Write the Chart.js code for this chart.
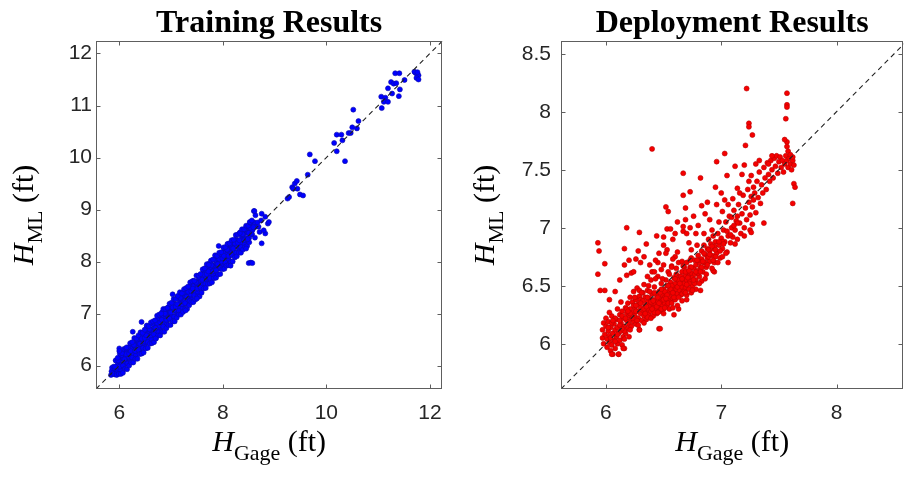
<!DOCTYPE html>
<html><head><meta charset="utf-8">
<script src="https://cdn.jsdelivr.net/npm/chart.js@4/dist/chart.umd.min.js"></script>
<style>
html,body{margin:0;padding:0;background:#fff;overflow:hidden;width:908px;height:478px}
#c1{position:absolute;left:0;top:0}
#c2{position:absolute;left:454px;top:0}
</style></head>
<body>
<canvas id="c1" width="454" height="478"></canvas>
<canvas id="c2" width="454" height="478"></canvas>
<script>
// ---- titles and labels ----
const trainTitle = 'Training Results';
const deployTitle = 'Deployment Results';
const xLabelParts = ['H', 'Gage', ' (ft)'];
const yLabelParts = ['H', 'ML', ' (ft)'];

// ---- tick labels and axis ranges ----
const trainTicksX = [6, 8, 10, 12];
const trainTicksY = [6, 7, 8, 9, 10, 11, 12];
const deployTicksX = [6, 7, 8];
const deployTicksY = [6, 6.5, 7, 7.5, 8, 8.5];
const trainRange = [5.55, 12.24];
const deployRangeX = [5.61, 8.58];
const deployRangeY = [5.61, 8.61];

// ---- training points [H_Gage, H_ML] ----
const trainBand = [
[5.84,5.82],[5.85,5.89],[5.86,5.96],[5.88,5.86],[5.89,5.98],[5.91,5.83],[5.92,5.94],[5.94,6.10],
[5.95,5.90],[5.97,6.03],[5.98,5.99],[6.00,6.11],[6.01,5.93],[6.03,6.17],[6.04,6.03],[6.06,6.13],
[6.07,5.98],[6.09,6.13],[6.10,6.23],[6.12,6.10],[6.13,6.22],[6.15,6.04],[6.16,6.18],[6.18,6.34],
[6.19,6.14],[6.21,6.27],[6.22,6.23],[6.24,6.35],[6.25,6.17],[6.27,6.41],[6.28,6.27],[6.30,6.37],
[6.31,6.22],[6.33,6.37],[6.34,6.47],[6.36,6.34],[6.37,6.46],[6.39,6.28],[6.40,6.42],[6.42,6.58],
[6.43,6.38],[6.45,6.51],[6.46,6.47],[6.48,6.59],[6.49,6.41],[6.51,6.65],[6.52,6.51],[6.54,6.61],
[6.55,6.46],[6.57,6.61],[6.58,6.71],[6.60,6.58],[6.61,6.70],[6.63,6.52],[6.64,6.66],[6.66,6.82],
[6.67,6.62],[6.69,6.75],[6.70,6.71],[6.72,6.83],[6.73,6.65],[6.75,6.89],[6.76,6.75],[6.78,6.85],
[6.79,6.70],[6.81,6.85],[6.82,6.95],[6.84,6.82],[6.85,6.94],[6.87,6.76],[6.88,6.90],[6.90,7.06],
[6.91,6.86],[6.93,6.99],[6.94,6.95],[6.96,7.07],[6.97,6.89],[6.99,7.13],[7.00,6.99],[7.02,7.09],
[7.03,6.94],[7.05,7.09],[7.06,7.19],[7.08,7.06],[7.09,7.18],[7.11,7.00],[7.12,7.14],[7.14,7.30],
[7.15,7.10],[7.17,7.23],[7.18,7.19],[7.20,7.31],[7.21,7.13],[7.23,7.37],[7.24,7.23],[7.26,7.33],
[7.27,7.18],[7.29,7.33],[7.30,7.43],[7.32,7.30],[7.33,7.42],[7.35,7.24],[7.36,7.38],[7.38,7.54],
[7.39,7.34],[7.41,7.47],[7.42,7.43],[7.44,7.55],[7.45,7.37],[7.47,7.61],[7.48,7.47],[7.50,7.57],
[7.51,7.42],[7.53,7.57],[7.54,7.67],[7.56,7.54],[7.57,7.66],[7.59,7.48],[7.60,7.62],[7.62,7.78],
[7.63,7.61],[7.65,7.74],[7.66,7.70],[7.68,7.82],[7.69,7.64],[7.71,7.88],[7.72,7.74],[7.74,7.84],
[7.75,7.69],[7.77,7.84],[7.78,7.94],[7.80,7.81],[7.81,7.93],[7.83,7.75],[7.84,7.89],[7.86,8.05],
[7.87,7.85],[7.89,7.98],[7.90,7.94],[7.92,8.06],[7.93,7.88],[7.95,8.12],[7.96,7.98],[7.98,8.08],
[7.99,7.93],[8.01,8.08],[8.02,8.18],[8.04,8.05],[8.05,8.17],[8.07,7.99],[8.08,8.13],[8.10,8.29],
[8.11,8.09],[8.13,8.22],[8.14,8.18],[8.16,8.30],[8.17,8.12],[8.19,8.36],[8.20,8.22],[8.22,8.32],
[8.23,8.17],[8.25,8.32],[8.26,8.42],[8.28,8.29],[8.29,8.41],[8.31,8.23],[8.32,8.37],[8.34,8.53],
[8.35,8.33],[8.37,8.46],[8.38,8.42],[8.40,8.54],[8.41,8.36],[8.43,8.60],[8.44,8.46],[8.46,8.56],
[8.47,8.41],[8.49,8.56],[8.50,8.66],[8.52,8.53],[8.54,8.66],[8.56,8.52],[8.58,8.63],[8.61,8.75],
[8.64,8.67],[8.67,8.75]
];
const trainBandEdge = [
[5.90,5.84],[5.93,6.10],[5.96,5.92],[5.99,6.09],[6.02,5.90],[6.05,6.22],[6.08,6.13],[6.11,6.03],
[6.14,6.28],[6.17,6.17],[6.20,6.06],[6.23,6.43],[6.26,6.22],[6.29,6.39],[6.32,6.20],[6.35,6.52],
[6.38,6.43],[6.41,6.33],[6.44,6.58],[6.47,6.47],[6.50,6.36],[6.53,6.73],[6.56,6.52],[6.59,6.69],
[6.62,6.50],[6.65,6.82],[6.68,6.73],[6.71,6.63],[6.74,6.88],[6.77,6.77],[6.80,6.66],[6.83,7.03],
[6.86,6.82],[6.89,6.99],[6.92,6.80],[6.95,7.12],[6.98,7.03],[7.01,6.93],[7.04,7.18],[7.07,7.07],
[7.10,6.96],[7.13,7.33],[7.16,7.12],[7.19,7.29],[7.22,7.10],[7.25,7.42],[7.28,7.33],[7.31,7.23],
[7.34,7.48],[7.37,7.37],[7.40,7.26],[7.43,7.63],[7.46,7.42],[7.49,7.59],[7.52,7.40],[7.55,7.72],
[7.58,7.63],[7.61,7.56],[7.64,7.81],[7.67,7.70],[7.70,7.59],[7.73,7.96],[7.76,7.75],[7.79,7.92],
[7.82,7.73],[7.85,8.05],[7.88,7.96],[7.91,7.86],[7.94,8.11],[7.97,8.00],[8.00,7.89],[8.03,8.26],
[8.06,8.05],[8.09,8.22],[8.12,8.03],[8.15,8.35],[8.18,8.26],[8.21,8.16],[8.24,8.41],[8.27,8.30],
[8.30,8.19],[8.33,8.56],[8.36,8.35],[8.39,8.52],[8.42,8.33],[8.45,8.65],[8.48,8.56],[8.51,8.46],
[8.54,8.71],[8.57,8.60]
];
const trainBandMid = [
[5.92,5.98],[5.95,5.85],[5.98,6.10],[6.01,5.98],[6.04,6.20],[6.07,6.00],[6.10,6.12],[6.13,6.22],
[6.16,6.04],[6.19,6.23],[6.22,6.28],[6.25,6.15],[6.28,6.40],[6.31,6.28],[6.34,6.50],[6.37,6.30],
[6.40,6.42],[6.43,6.52],[6.46,6.34],[6.49,6.53],[6.52,6.58],[6.55,6.45],[6.58,6.70],[6.61,6.58],
[6.64,6.80],[6.67,6.60],[6.70,6.72],[6.73,6.82],[6.76,6.64],[6.79,6.83],[6.82,6.88],[6.85,6.75],
[6.88,7.00],[6.91,6.88],[6.94,7.10],[6.97,6.90],[7.00,7.02],[7.03,7.12],[7.06,6.94],[7.09,7.13],
[7.12,7.18],[7.15,7.05],[7.18,7.30],[7.21,7.18],[7.24,7.40],[7.27,7.20],[7.30,7.32],[7.33,7.42],
[7.36,7.24],[7.39,7.43],[7.42,7.48],[7.45,7.35],[7.48,7.60],[7.51,7.48],[7.54,7.70],[7.57,7.50],
[7.60,7.65],[7.63,7.75],[7.66,7.57],[7.69,7.76],[7.72,7.81],[7.75,7.68],[7.78,7.93],[7.81,7.81],
[7.84,8.03],[7.87,7.83],[7.90,7.95],[7.93,8.05],[7.96,7.87],[7.99,8.06],[8.02,8.11],[8.05,7.98],
[8.08,8.23],[8.11,8.11],[8.14,8.33],[8.17,8.13],[8.20,8.25],[8.23,8.35],[8.26,8.17],[8.29,8.36],
[8.32,8.41],[8.35,8.28],[8.38,8.53],[8.41,8.41],[8.44,8.63],[8.47,8.43],[8.50,8.55],[8.53,8.65],
[8.56,8.53],[8.59,8.66]
];
const trainBandOuter = [
[5.95,5.82],[5.97,6.15],[5.99,5.84],[6.01,6.23],[6.03,5.84],[6.05,6.24],[6.07,5.86],[6.09,6.32],
[6.11,5.94],[6.13,6.33],[6.15,5.93],[6.17,6.35],[6.19,6.00],[6.21,6.43],[6.23,6.06],[6.25,6.45],
[6.27,6.06],[6.29,6.53],[6.31,6.13],[6.33,6.52],[6.35,6.13],[6.37,6.58],[6.39,6.22],[6.41,6.64],
[6.43,6.23],[6.45,6.63],[6.47,6.25],[6.49,6.69],[6.51,6.33],[6.53,6.77],[6.55,6.34],[6.57,6.76],
[6.59,6.42],[6.61,6.83],[6.63,6.43],[6.65,6.85],[6.67,6.45],[6.69,6.87],[6.71,6.52],[6.73,6.96],
[6.75,6.58],[6.77,6.98],[6.79,6.58],[6.81,7.00],[6.83,6.65],[6.85,7.09],[6.87,6.65],[6.89,7.09],
[6.91,6.72],[6.93,7.11],[6.95,6.78],[6.97,7.19],[6.99,6.78],[7.01,7.21],[7.03,6.85],[7.05,7.28],
[7.07,6.85],[7.09,7.28],[7.11,6.92],[7.13,7.34],[7.15,6.98],[7.17,7.41],[7.19,6.98],[7.21,7.39],
[7.23,7.03],[7.25,7.47],[7.27,7.09],[7.29,7.49],[7.31,7.09],[7.33,7.52],[7.35,7.16],[7.37,7.60],
[7.39,7.22],[7.41,7.62],[7.43,7.22],[7.45,7.63],[7.47,7.27],[7.49,7.73],[7.51,7.33],[7.53,7.73],
[7.55,7.33],[7.57,7.76],[7.59,7.40],[7.61,7.85],[7.63,7.48],[7.65,7.87],[7.67,7.49],[7.69,7.95],
[7.71,7.57],[7.73,7.94],[7.75,7.58],[7.77,8.02],[7.79,7.60],[7.81,8.04],[7.83,7.68],[7.85,8.12],
[7.87,7.69],[7.89,8.11],[7.91,7.75],[7.93,8.17],[7.95,7.76],[7.97,8.18],[7.99,7.85],[8.01,8.27],
[8.03,7.86],[8.05,8.28],[8.07,7.92],[8.09,8.34],[8.11,7.93],[8.13,8.35],[8.15,7.99],[8.17,8.41],
[8.19,8.00],[8.21,8.42],[8.23,8.08],[8.25,8.51],[8.27,8.10],[8.29,8.52],[8.31,8.17],[8.33,8.55],
[8.35,8.17],[8.37,8.62],[8.39,8.23],[8.41,8.62],[8.43,8.28],[8.45,8.69],[8.47,8.30],[8.49,8.69],
[8.51,8.37],[8.53,8.75]
];
const trainScatter = [
[6.00,6.33],[6.00,6.28],[6.26,6.65],[6.43,6.84],[7.03,7.37],[7.50,7.29],[7.92,8.30],[8.50,7.97],
[8.54,7.98],[8.57,7.97],[8.15,7.92],[8.62,8.46],[8.75,8.35],[8.60,8.97],[8.63,8.89],[8.52,8.76],
[8.74,8.79],[8.87,8.73],[8.71,8.57],[8.82,8.54],[8.48,8.43],[8.45,8.25],[8.56,8.79],[8.61,8.97],
[8.75,8.92],[8.82,8.86],[8.89,8.76],[8.69,8.67],[8.79,8.60],[6.14,6.35],[6.70,6.52],[7.28,7.06],
[9.25,9.21],[9.28,9.24],[9.34,9.43],[9.36,9.40],[9.39,9.50],[9.43,9.55],[9.44,9.40],[9.49,9.29],
[9.55,9.27],[9.64,9.67],[9.68,10.06],[9.78,9.93],[10.15,10.28],[10.20,10.44],[10.29,10.44],
[10.31,10.33],[10.20,10.12],[10.36,9.93],[10.43,10.47],[10.47,10.47],[10.50,10.58],[10.59,10.56],
[10.62,10.70],[10.52,10.92],[11.07,10.95],[11.06,11.17],[11.14,11.15],[11.11,11.07],[11.19,11.07],
[11.19,11.33],[11.42,11.31],[11.27,11.23],[11.40,11.18],[11.25,11.45],[11.30,11.42],[11.35,11.43],
[11.33,11.62],[11.41,11.62],[11.51,11.49],[11.72,11.63],[11.75,11.60],[11.78,11.58],[11.74,11.53],
[11.78,11.50],[11.70,11.65],[11.76,11.64]
];

// ---- deployment points [H_Gage, H_ML] ----
const deployCore = [
[5.97,6.05],[5.97,6.12],[5.98,6.18],[5.98,6.00],[5.99,6.08],[6.00,6.15],[6.00,6.22],[6.01,5.97],
[6.01,6.04],[6.02,6.11],[6.02,6.19],[6.03,6.01],[6.03,6.07],[6.04,5.94],[6.04,6.14],[6.05,6.24],
[6.05,5.99],[6.06,6.09],[6.06,5.91],[6.07,6.03],[6.07,6.17],[6.08,6.12],[6.08,5.96],[6.09,6.06],
[6.09,6.21],[6.10,6.00],[6.10,6.14],[6.11,5.91],[6.11,6.09],[6.12,6.25],[6.12,6.03],[6.13,6.18],
[6.13,6.11],[6.14,5.99],[6.14,6.28],[6.15,6.06],[6.15,6.22],[6.16,6.15],[6.16,5.96],[6.17,6.31],
[6.17,6.09],[6.18,6.20],[6.18,6.26],[6.19,6.13],[6.19,6.35],[6.20,6.24],[6.20,6.17],[6.21,6.30],
[6.21,6.40],[6.22,6.21],[6.22,6.15],[6.23,6.27],[6.23,6.36],[6.24,6.19],[6.24,6.45],[6.25,6.31],
[6.25,6.24],[6.26,6.38],[6.26,6.17],[6.27,6.28],[6.27,6.48],[6.28,6.22],[6.28,6.34],[6.29,6.41],
[6.29,6.12],[6.30,6.26],[6.30,6.31],[6.31,6.37],[6.31,6.20],[6.32,6.44],[6.32,6.29],[6.33,6.24],
[6.33,6.51],[6.34,6.33],[6.34,6.40],[6.35,6.27],[6.35,6.21],[6.36,6.36],[6.36,6.46],[6.37,6.30],
[6.37,6.25],[6.38,6.39],[6.38,6.33],[6.39,6.28],[6.39,6.55],[6.40,6.35],[6.40,6.43],[6.41,6.24],
[6.41,6.31],[6.42,6.38],[6.42,6.49],[6.43,6.29],[6.43,6.34],[6.44,6.42],[6.44,6.26],[6.45,6.36],
[6.45,6.58],[6.46,6.31],[6.46,6.45],[6.47,6.39],[6.47,6.28],[6.48,6.34],[6.48,6.52],[6.49,6.42],
[6.49,6.37],[6.50,6.30],[6.50,6.47],[6.51,6.40],[6.51,6.35],[6.52,6.55],[6.52,6.44],[6.53,6.33],
[6.53,6.50],[6.54,6.38],[6.54,6.62],[6.55,6.46],[6.55,6.41],[6.56,6.36],[6.56,6.53],[6.57,6.44],
[6.57,6.67],[6.58,6.49],[6.58,6.39],[6.59,6.57],[6.59,6.45],[6.60,6.41],[6.60,6.52],[6.61,6.60],
[6.61,6.47],[6.62,6.43],[6.62,6.55],[6.63,6.50],[6.63,6.70],[6.64,6.46],[6.64,6.58],[6.65,6.53],
[6.65,6.42],[6.66,6.62],[6.66,6.49],[6.67,6.56],[6.67,6.45],[6.68,6.66],[6.68,6.52],[6.69,6.59],
[6.69,6.48],[6.70,6.55],[6.70,6.70],[6.71,6.62],[6.71,6.51],[6.72,6.58],[6.72,6.47],[6.73,6.66],
[6.73,6.54],[6.74,6.61],[6.74,6.74],[6.75,6.57],[6.75,6.50],[6.76,6.65],[6.77,6.60],[6.77,6.72],
[6.78,6.55],[6.78,6.68],[6.79,6.63],[6.80,6.76],[6.81,6.70],[6.81,6.58],[6.82,6.66],[6.83,6.80],
[6.83,6.73],[6.84,6.62],[6.85,6.85],[6.85,6.70],[6.86,6.77],[6.87,6.66],[6.88,6.82],[6.88,6.74],
[6.89,6.90],[6.90,6.71],[6.90,6.80],[6.91,6.86],[6.92,6.76],[6.93,6.93],[6.94,6.82],[6.94,6.70],
[6.95,6.88],[6.96,6.78],[6.97,6.95],[6.98,6.85],[6.99,6.74],[7.00,6.91],[7.01,6.82],[7.02,6.98],
[7.03,6.88],[7.04,7.05],[7.05,6.79],[7.06,6.93],[7.07,7.10],[7.08,6.87],[7.09,7.00],[7.10,6.92]
];
const deployUpper = [
[7.11,7.15],[7.12,6.98],[7.13,7.06],[7.14,6.90],[7.15,7.20],[7.16,7.04],[7.17,6.95],[7.18,7.12],
[7.19,7.28],[7.20,7.00],[7.21,7.17],[7.22,7.07],[7.23,7.33],[7.24,7.22],[7.24,7.40],[7.25,7.11],
[7.25,6.98],[7.26,7.27],[7.26,7.45],[7.27,7.18],[7.27,7.03],[7.28,7.35],[7.28,7.24],[7.29,7.30],
[7.30,7.13],[7.31,7.40],[7.32,7.26],[7.33,7.48],[7.34,7.21],[7.35,7.37],[7.36,7.30],[7.37,7.52],
[7.38,7.43],[7.39,7.33],[7.40,7.56],[7.41,7.46],[7.42,7.40],[7.43,7.58],[7.44,7.50],[7.45,7.43],
[7.46,7.60],[7.47,7.53],[7.48,7.62],[7.49,7.47],[7.50,7.57],[7.51,7.61],[7.52,7.52],[7.53,7.58],
[7.54,7.48],[7.55,7.55],[7.56,7.62],[7.57,7.58],[7.57,7.70],[7.57,7.74],[7.58,7.52],[7.58,7.66],
[7.59,7.60],[7.60,7.55],[7.60,7.63],[7.61,7.50],[7.62,7.58],[7.62,7.61],[7.63,7.38],[7.64,7.35],
[7.62,7.21],[7.63,7.54]
];
const deployScatter = [
[5.93,6.87],[5.94,6.80],[5.93,6.60],[5.95,6.46],[5.99,6.46],[5.99,6.69],[6.16,6.82],[6.18,7.00],
[6.29,6.96],[6.16,6.68],[6.18,6.59],[6.22,6.61],[6.26,6.73],[6.30,6.70],[6.40,7.68],[6.52,7.18],
[6.54,7.14],[6.53,6.99],[6.56,6.99],[6.67,7.47],[6.69,7.17],[6.69,7.07],[6.67,6.97],[6.70,6.95],
[6.73,7.31],[6.67,7.28],[6.82,7.43],[6.83,7.19],[6.86,7.12],[6.90,7.07],[6.96,7.57],[7.03,7.64],
[7.00,7.30],[7.01,7.14],[7.03,7.24],[7.09,7.09],[7.14,7.04],[7.12,7.53],[7.14,7.34],[7.20,7.54],
[7.21,7.71],[7.22,8.20],[7.24,7.90],[7.24,7.87],[7.27,7.80],[7.37,7.04],[7.57,8.16],[7.57,8.06],
[7.57,8.04],[7.56,7.94],[7.55,7.76],[6.94,6.62],[6.46,6.13],[6.29,6.12],[6.47,6.13],[6.05,5.91],
[6.11,5.91],[6.15,5.96],[6.53,6.81],[6.52,6.78],[6.62,6.79],[6.66,6.71],[6.72,6.87],[6.74,6.81],
[6.79,6.85],[6.80,6.72],[6.89,6.81],[6.94,6.84],[7.01,6.88],[7.04,6.78],[7.01,6.75],[6.83,6.54],
[6.74,6.44],[6.82,6.46],[6.95,7.35],[7.06,7.20],[7.10,7.25],[7.16,7.30],[7.18,7.46],[7.30,7.55],
[7.33,7.58],[7.41,7.55],[7.44,7.62],[7.06,6.70],[7.12,6.86],[7.20,6.93],[7.26,6.96],[6.63,6.30],
[6.59,6.25],[6.70,6.38],[6.57,6.66],[6.60,6.75],[6.45,6.70],[6.40,6.62],[6.36,6.58],[6.48,6.64],
[6.73,7.00],[6.67,7.01],[6.78,6.95],[6.24,6.62],[6.33,6.75],[6.38,6.68],[6.43,6.72],[6.50,6.68],
[6.46,6.78],[6.58,6.73],[6.42,6.62],[6.62,6.33],[6.70,6.42],[6.78,6.47],[6.86,6.56],[6.93,6.63],
[6.66,6.37],[6.55,6.30],[6.50,6.26],[6.58,6.31],
[6.35,6.86],[6.44,6.93],[6.50,6.85],[6.58,6.90],[6.62,7.05],[6.76,7.10],[6.80,7.02],[6.88,7.22],
[6.92,6.98],[6.98,7.05],[7.05,7.45],[6.60,6.95],[6.28,6.80],[6.20,6.72],[6.12,6.55],[6.08,6.45],
[6.03,6.38],[6.50,6.92],[6.85,6.95],[6.96,7.20]
];
const deployDense = [
[6.21,6.26],[6.24,6.33],[6.27,6.20],[6.30,6.38],[6.33,6.30],[6.36,6.23],[6.39,6.36],[6.42,6.27],
[6.45,6.40],[6.48,6.30],[6.51,6.45],[6.54,6.35],[6.57,6.50],[6.60,6.38],[6.63,6.55],[6.66,6.43],
[6.69,6.62],[6.72,6.52],[6.26,6.33],[6.29,6.46],[6.32,6.37],[6.35,6.32],[6.38,6.45],[6.41,6.37],
[6.44,6.32],[6.47,6.44],[6.50,6.38],[6.53,6.42],[6.56,6.47],[6.59,6.40],[6.62,6.49],[6.65,6.58],
[6.68,6.45],[6.71,6.57],[6.74,6.66],[6.77,6.52],[6.80,6.61],[6.83,6.66],[6.86,6.70],[6.89,6.75],
[6.92,6.84],[6.95,6.75],[6.98,6.88],[6.12,6.16],[6.14,6.24],[6.16,6.11],[6.18,6.30],[6.20,6.06],
[6.05,6.18],[6.03,6.27],[6.08,6.22],[6.10,6.30],[6.13,6.36],
[6.02,6.14],[6.04,6.05],[6.06,6.20],[6.08,6.02],[6.10,6.08],[6.12,6.20],[6.14,6.13],[6.16,6.04],
[6.17,6.22],[6.19,6.28],[6.21,6.12],[6.23,6.22],[6.25,6.40],[6.26,6.28],[6.28,6.16],[6.30,6.35],
[6.31,6.44],[6.33,6.18],[6.34,6.26],[6.36,6.40],[6.37,6.50],[6.39,6.22],[6.40,6.30],[6.42,6.44],
[6.43,6.56],[6.45,6.27],[6.46,6.35],[6.48,6.47],[6.49,6.56],[6.51,6.31],[6.52,6.39],[6.54,6.50],
[6.55,6.60],[6.57,6.35],[6.58,6.44],[6.60,6.56],[6.61,6.65],[6.63,6.40],[6.64,6.52],[6.66,6.56],
[6.67,6.67],[6.69,6.44],[6.70,6.51],[6.72,6.63],[6.73,6.72],[6.75,6.46],[6.76,6.55],[6.78,6.62],
[6.79,6.72],[6.81,6.52],[6.82,6.62],[6.84,6.71],[6.85,6.78],[6.87,6.60],[6.88,6.68],[6.90,6.77],
[6.92,6.65],[6.93,6.72],[6.95,6.81],[6.97,6.70],[6.99,6.80],[7.02,6.86],[7.05,6.97],[7.08,6.94],
[7.11,7.02],[7.14,7.10]
];

const toXY = arr => arr.map(p => ({x: p[0], y: p[1]}));

const tickFont = {family: '"Liberation Sans", Arial, sans-serif', size: 21};
const tickColor = '#262626';
const frameColor = '#5e5e5e';

function drawParts(ctx, parts, cx, baseline) {
  const fMain = 'italic 30px "Liberation Serif", serif';
  const fSub = '22px "Liberation Serif", serif';
  const fTail = '30px "Liberation Serif", serif';
  ctx.textAlign = 'left';
  ctx.textBaseline = 'alphabetic';
  ctx.font = fMain; const w1 = ctx.measureText(parts[0]).width;
  ctx.font = fSub; const w2 = ctx.measureText(parts[1]).width;
  ctx.font = fTail; const w3 = ctx.measureText(parts[2]).width;
  let x0 = cx - (w1 + w2 + w3) / 2;
  ctx.font = fMain; ctx.fillText(parts[0], x0, baseline); x0 += w1;
  ctx.font = fSub; ctx.fillText(parts[1], x0, baseline + 9); x0 += w2;
  ctx.font = fTail; ctx.fillText(parts[2], x0, baseline);
}

function panelPlugin(xBase, yBase) {
  return {
    id: 'panelFrame',
    afterDraw(chart) {
      const ctx = chart.ctx, a = chart.chartArea, xs = chart.scales.x, ys = chart.scales.y;
      ctx.save();
      ctx.strokeStyle = frameColor;
      ctx.lineWidth = 1;
      const L = Math.round(a.left) + 0.5, R = Math.round(a.right) - 0.5;
      const T = Math.round(a.top) + 0.5, B = Math.round(a.bottom) - 0.5;
      ctx.strokeRect(L, T, R - L, B - T);
      const tl = 4;
      ctx.beginPath();
      xs.ticks.forEach(t => {
        const px = Math.round(xs.getPixelForValue(t.value)) + 0.5;
        ctx.moveTo(px, B); ctx.lineTo(px, B - tl);
        ctx.moveTo(px, T); ctx.lineTo(px, T + tl);
      });
      ys.ticks.forEach(t => {
        const py = Math.round(ys.getPixelForValue(t.value)) + 0.5;
        ctx.moveTo(L, py); ctx.lineTo(L + tl, py);
        ctx.moveTo(R, py); ctx.lineTo(R - tl, py);
      });
      ctx.stroke();
      ctx.fillStyle = '#000';
      const cx = (a.left + a.right) / 2, cy = (a.top + a.bottom) / 2;
      drawParts(ctx, xLabelParts, cx, xBase);
      ctx.translate(yBase, cy);
      ctx.rotate(-Math.PI / 2);
      drawParts(ctx, yLabelParts, 0, 0);
      ctx.restore();
    }
  };
}

function makePanel(id, cfg) {
  const diag = [Math.min(cfg.rx[0], cfg.ry[0]), Math.max(cfg.rx[1], cfg.ry[1])];
  return new Chart(document.getElementById(id), {
    type: 'scatter',
    data: {
      datasets: [
        {
          data: toXY(cfg.points),
          pointRadius: cfg.radius,
          pointBackgroundColor: cfg.fill,
          pointBorderColor: cfg.edge,
          pointBorderWidth: 0.6,
          order: 1
        },
        {
          data: [{x: diag[0], y: diag[0]}, {x: diag[1], y: diag[1]}],
          showLine: true,
          pointRadius: 0,
          borderColor: '#222',
          borderWidth: 1.1,
          borderDash: [5, 4],
          order: 0
        }
      ]
    },
    options: {
      responsive: false,
      animation: false,
      devicePixelRatio: 1,
      events: [],
      layout: {padding: {left: 0, right: cfg.padRight, top: 0, bottom: 0}},
      plugins: {
        legend: {display: false},
        tooltip: {enabled: false},
        title: {
          display: true,
          fullSize: false,
          text: cfg.title,
          color: '#000',
          font: {family: '"Liberation Serif", "Times New Roman", serif', size: 32, weight: 'bold', lineHeight: 1.0},
          padding: {top: 8, bottom: 1}
        }
      },
      scales: {
        x: {
          type: 'linear',
          min: cfg.rx[0], max: cfg.rx[1],
          afterBuildTicks: s => { s.ticks = cfg.ticksX.map(v => ({value: v})); },
          afterFit: s => { s.height = 89; },
          grid: {display: false, drawTicks: false},
          border: {display: false},
          ticks: {font: tickFont, color: tickColor, padding: 12, maxRotation: 0, callback: v => String(v)}
        },
        y: {
          type: 'linear',
          min: cfg.ry[0], max: cfg.ry[1],
          afterBuildTicks: s => { s.ticks = cfg.ticksY.map(v => ({value: v})); },
          afterFit: s => { s.width = cfg.yWidth; },
          grid: {display: false, drawTicks: false},
          border: {display: false},
          ticks: {font: tickFont, color: tickColor, padding: cfg.yPad, callback: v => String(v)}
        }
      }
    },
    plugins: [panelPlugin(451, cfg.yBase)]
  });
}

makePanel('c1', {
  title: trainTitle,
  points: trainBand.concat(trainBandEdge, trainBandMid, trainBandOuter, trainScatter),
  rx: trainRange, ry: trainRange,
  ticksX: trainTicksX, ticksY: trainTicksY,
  radius: 2.5, fill: 'rgb(0,0,255)', edge: 'rgb(10,10,170)',
  yWidth: 96, padRight: 8, yPad: 4, yBase: 33
});
makePanel('c2', {
  title: deployTitle,
  points: deployCore.concat(deployUpper, deployScatter, deployDense),
  rx: deployRangeX, ry: deployRangeY,
  ticksX: deployTicksX, ticksY: deployTicksY,
  radius: 2.5, fill: 'rgb(245,0,0)', edge: 'rgb(185,0,0)',
  yWidth: 107, padRight: 1, yPad: 10, yBase: 40
});
</script>
</body></html>
